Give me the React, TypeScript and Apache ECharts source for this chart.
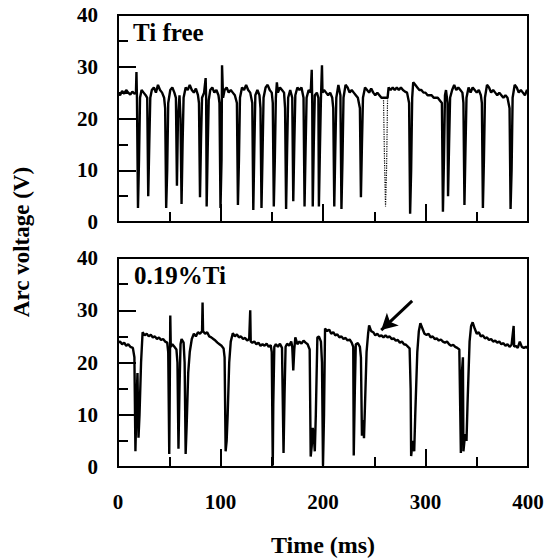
import React, { useEffect, useRef } from "react";
import * as echarts from "echarts";

// ---- Data (time in ms, arc voltage in V) ----
const xTicks = [0, 100, 200, 300, 400];
const yTicks = [0, 10, 20, 30, 40];

const tiFreeTrace: [number, number][] = [
  [0, 25], [2, 24.5], [4, 25.3], [6, 24.8], [8, 25.5], [10, 25], [12, 24.6], [14, 25.2], [16, 24.8],
  [17.5, 25], [18, 29], [18.5, 24], [19.5, 2.7], [20.5, 12], [21.5, 24], [23, 25.5], [25, 25], [27, 24.5],
  [28.5, 24], [29.5, 5], [30.5, 15], [31.5, 24], [33, 25.5], [35, 26], [37, 25], [39, 26.5], [41, 25.5],
  [43, 25], [45, 24], [46, 22], [47, 2.7], [48, 10], [49, 23], [51, 25.5], [53, 26], [55, 25], [56.5, 24],
  [57.5, 7], [58.5, 20], [60, 24.5], [61, 20], [62, 3.5], [63, 15], [64, 24], [66, 26], [68, 25.5],
  [70, 26.5], [72, 25.5], [74, 25], [76, 25.8], [78, 24.5], [79, 23], [80, 4.8], [81, 16], [82, 24],
  [84, 25], [85.5, 27.8], [86, 24], [86.5, 3], [87.5, 14], [88.5, 23.5], [90, 25.5], [92, 26], [94, 25],
  [96, 25.5], [98, 24.5], [99, 23], [100, 2.7], [101, 12], [101.5, 30.3], [102.5, 24], [104, 25.5],
  [106, 26], [108, 25], [110, 25.5], [112, 25], [114, 24.5], [116, 23], [117, 3.3], [118, 12], [119, 24],
  [121, 26], [123, 25.5], [125, 26.5], [127, 25.5], [129, 25], [131, 23], [132, 2.3], [133, 14],
  [134, 24.5], [136, 25.5], [138, 24.5], [139, 22], [140, 2.7], [141, 13], [142, 24], [144, 26],
  [146, 26.5], [148, 25.5], [150, 25], [151, 23], [152, 3], [153, 12], [154, 24], [155, 27], [156, 25],
  [158, 26], [160, 25.5], [162, 25], [163, 22], [164, 2.5], [165, 14], [166, 24], [168, 25.5], [170, 24],
  [171, 4], [172, 15], [173, 24.5], [175, 26], [177, 25.5], [179, 26], [181, 24], [182, 3], [183, 14],
  [184, 24], [186, 25.5], [188, 25], [189, 29.4], [189.5, 23], [190, 3], [191, 15], [192, 24.5], [194, 25],
  [195.5, 24], [196, 3], [197, 14], [198, 24], [199, 30.3], [199.5, 25], [201, 25.5], [203, 25],
  [205, 24.5], [207, 25], [209, 24], [210, 22], [211, 3], [212, 14], [213, 24], [215, 26.5], [217, 24.5],
  [218, 2.5], [219, 12], [220, 24], [222, 26.5], [224, 26], [226, 25], [228, 25.5], [230, 25], [232, 24.5],
  [234, 24], [236, 22], [237, 4.8], [238, 15], [239, 24], [241, 26], [243, 25.5], [245, 25], [247, 25.8],
  [249, 25], [251, 24.5], [253, 25], [255, 24.5], [257, 24], [259, 24], [263, 24], [264, 26], [266, 25.5],
  [268, 26], [270, 25.5], [272, 26], [274, 25.5], [276, 26], [278, 25.5], [280, 25.2], [282, 25], [284, 23],
  [285, 1.6], [286, 10], [287, 24], [288, 27], [290, 26.5], [292, 26], [294, 25.5], [296, 25.5], [298, 25],
  [300, 25], [302, 24.5], [304, 24.5], [306, 24.5], [308, 24], [310, 24], [312, 24], [314, 23.5], [316, 23],
  [317, 2], [318, 12], [319, 24.5], [320, 25.5], [321.5, 23], [322, 5], [323, 15], [324, 24], [326, 25.5],
  [328, 26.5], [330, 25.5], [332, 26], [334, 25.5], [336, 25], [337, 23], [338, 3.3], [339, 14], [340, 24],
  [342, 26], [344, 25], [346, 26], [348, 25.5], [350, 25], [352, 25.5], [354, 24.5], [355, 23], [356, 2.7],
  [357, 12], [358, 24], [360, 26.5], [362, 26], [364, 25], [366, 25.5], [368, 25], [370, 24.5], [372, 25],
  [374, 24.5], [376, 24], [378, 24.5], [380, 24], [382, 22], [383, 2.5], [384, 10], [385, 24], [387, 26.5],
  [389, 26], [391, 25], [393, 25.5], [395, 25], [397, 24.5], [399, 25.5], [400, 25],
];

// faint (dotted) short-circuit trace in the Ti-free record
const tiFreeFaint: [number, number][] = [
  [259, 24], [260, 12], [261, 3], [262, 10], [263, 24],
];

const ti019Trace: [number, number][] = [
  [0, 23.8], [2, 24], [4, 23.5], [6, 23.8], [8, 23.2], [10, 23.5], [12, 23], [14.5, 22.8], [16, 21],
  [17, 3], [18, 12], [19, 18], [20, 5.6], [21, 10], [22.5, 20], [24, 25.8], [26, 25.2], [28, 25.5],
  [30, 25], [32, 25.3], [34, 24.8], [36, 25], [38, 24.5], [40, 24.8], [42, 24.3], [44, 24.5], [46, 24],
  [48, 23.8], [49, 22], [50, 2.5], [50.5, 15], [51, 29], [51.5, 23], [53, 23.5], [55, 23], [57, 22.5],
  [58, 20], [59, 3.5], [60, 15], [61, 23.5], [62, 24.5], [64, 23.8], [65, 20], [66, 2.5], [67, 8],
  [68.5, 18], [70, 22], [72, 24.5], [74, 25.5], [76, 25], [78, 25.8], [80, 25.5], [82, 26], [82.5, 31.5],
  [83, 26], [85, 25.5], [87, 25.8], [89, 25], [91, 24.8], [93, 24.5], [95, 24.2], [97, 23.8], [99, 23.5],
  [101, 23.2], [103, 22.7], [104, 21], [105, 3], [106, 5], [107, 10], [108.5, 20], [110, 24], [112, 25.6],
  [114, 25], [116, 25.4], [118, 24.8], [120, 25], [122, 24.5], [124, 24.7], [126, 24.2], [128, 24.5],
  [129, 30], [129.5, 24], [131, 23.8], [133, 24], [135, 23.5], [137, 23.8], [139, 23.2], [141, 23.5],
  [143, 23.2], [145, 23.6], [147, 23], [149, 23.3], [150, 22], [151, 0.3], [151.5, 12], [152.5, 23],
  [154, 23.5], [156, 23], [158, 23.6], [160, 22.8], [161.5, 2.7], [162.5, 14], [163.5, 23], [165, 23.6],
  [167, 23.2], [169, 24], [170, 23], [171, 18.5], [172, 22.5], [173, 24.8], [175, 23.5], [177, 24],
  [179, 23.6], [181, 24.2], [183, 23.8], [185, 23.5], [187, 22.5], [188, 2], [189, 4], [190, 7.5], [191, 6],
  [192, 3], [193, 10], [194.5, 24.8], [196, 25], [198, 24], [199, 20], [200, 0.3], [201, 10], [202, 26.5],
  [204, 26], [206, 26.3], [208, 25.5], [210, 25.8], [212, 25.2], [214, 25.4], [216, 24.8], [218, 25],
  [220, 24.5], [222, 24.7], [224, 24.2], [226, 24.4], [228, 23.8], [229.5, 23], [230, 2.2], [231, 14],
  [232, 23.5], [234, 23.7], [236, 23], [237, 21], [238, 6], [239, 9], [240, 5.5], [241, 12], [242.5, 22],
  [244, 25.5], [245, 27.1], [247, 26], [249, 25.8], [251, 25.2], [253, 25.5], [255, 25], [257, 25.2],
  [259, 24.8], [261, 25.2], [263, 24.8], [265, 25], [267, 24.5], [269, 24.6], [271, 24.2], [273, 24.3],
  [275, 23.8], [277, 24], [279, 23.5], [281, 23.4], [283, 23], [284.5, 22.7], [285.5, 15], [286, 2.1],
  [287, 4], [288, 5], [289, 3], [290, 10], [292, 22], [293.5, 26], [295, 27.5], [297, 26.5], [299, 25.5],
  [301, 25.3], [303, 25.5], [305, 24.8], [307, 25], [309, 24.5], [311, 24.6], [313, 24.2], [315, 24.4],
  [317, 24], [319, 23.8], [321, 24], [323, 23.5], [325, 23.2], [327, 23.4], [329, 23], [331, 22.8],
  [333, 22.5], [334.5, 2.7], [335.5, 18], [336.5, 21], [337, 3], [338, 5], [339, 6.3], [340, 5], [341, 12],
  [343, 24], [344.5, 27], [346, 27.7], [348, 26.5], [350, 25.5], [352, 25.8], [354, 25], [356, 25.2],
  [358, 24.6], [360, 24.8], [362, 24.3], [364, 24.5], [366, 24], [368, 24.2], [370, 23.8], [372, 24],
  [374, 23.5], [376, 23.7], [378, 23.2], [380, 23.5], [382, 23], [384, 23.4], [386, 27], [386.5, 23],
  [388, 23.2], [390, 22.8], [392, 24], [394, 23], [396, 22.8], [398, 23], [400, 22.7],
];

// arrow annotation (tail -> tip) in data coordinates of the lower panel
const arrowTail: [number, number] = [287, 31.8];
const arrowTip: [number, number] = [256.8, 26.2];

const panelLabels = ["Ti free", "0.19%Ti"];
const xName = "Time (ms)";
const yName = "Arc voltage (V)";

const FONT = '"Liberation Serif", "Times New Roman", serif';

export default function App() {
  const ref = useRef<HTMLDivElement>(null);

  useEffect(() => {
    if (!ref.current) return;
    const chart = echarts.init(ref.current, null, { renderer: "svg" });

    const axisLine = { show: true, lineStyle: { color: "#000", width: 2 } };
    const labelStyle = {
      fontFamily: FONT,
      fontWeight: "bold" as const,
      fontSize: 21,
      color: "#000",
    };

    const makeX = (gridIndex: number, showLabel: boolean) => ({
      type: "value" as const,
      gridIndex,
      min: xTicks[0],
      max: xTicks[xTicks.length - 1],
      interval: 100,
      axisLine,
      axisTick: { show: true, inside: true, length: 18, lineStyle: { color: "#000", width: 2 } },
      minorTick: { show: true, splitNumber: 2, length: 10, lineStyle: { color: "#000", width: 2 } },
      splitLine: { show: false },
      minorSplitLine: { show: false },
      axisLabel: { show: showLabel, margin: 24, ...labelStyle },
    });

    const makeY = (gridIndex: number) => ({
      type: "value" as const,
      gridIndex,
      min: yTicks[0],
      max: yTicks[yTicks.length - 1],
      interval: 10,
      axisLine,
      axisTick: { show: true, inside: true, length: 18, lineStyle: { color: "#000", width: 2 } },
      minorTick: { show: true, splitNumber: 2, length: 10, lineStyle: { color: "#000", width: 2 } },
      splitLine: { show: false },
      minorSplitLine: { show: false },
      axisLabel: { show: true, margin: 20, ...labelStyle },
    });

    chart.setOption({
      animation: false,
      backgroundColor: "#fff",
      grid: [
        { left: 118, top: 15, width: 410, height: 207, show: true, borderColor: "#000", borderWidth: 2, backgroundColor: "transparent" },
        { left: 118, top: 258, width: 410, height: 209, show: true, borderColor: "#000", borderWidth: 2, backgroundColor: "transparent" },
      ],
      xAxis: [makeX(0, false), makeX(1, true)],
      yAxis: [makeY(0), makeY(1)],
      series: [
        {
          type: "line",
          xAxisIndex: 0,
          yAxisIndex: 0,
          data: tiFreeTrace,
          showSymbol: false,
          lineStyle: { color: "#000", width: 2.4 },
        },
        {
          type: "line",
          xAxisIndex: 0,
          yAxisIndex: 0,
          data: tiFreeFaint,
          showSymbol: false,
          lineStyle: { color: "#000", width: 1.2, type: "dotted" },
        },
        {
          type: "line",
          xAxisIndex: 1,
          yAxisIndex: 1,
          data: ti019Trace,
          showSymbol: false,
          lineStyle: { color: "#000", width: 2.4 },
          markLine: {
            silent: true,
            symbol: ["none", "arrow"],
            symbolSize: [13, 16],
            label: { show: false },
            lineStyle: { color: "#000", width: 3, type: "solid" },
            data: [[{ coord: arrowTail }, { coord: arrowTip }]],
          },
        },
      ],
      graphic: [
        {
          type: "text",
          left: 133,
          top: 20,
          style: { text: panelLabels[0], font: `bold 25px ${FONT}`, fill: "#000" },
        },
        {
          type: "text",
          left: 134,
          top: 263,
          style: { text: panelLabels[1], font: `bold 25px ${FONT}`, fill: "#000" },
        },
        {
          type: "text",
          x: 323,
          y: 545,
          style: { text: xName, font: `bold 24px ${FONT}`, fill: "#000", align: "center", verticalAlign: "middle" },
        },
        {
          type: "text",
          x: 21,
          y: 242,
          rotation: Math.PI / 2,
          style: { text: yName, font: `bold 23px ${FONT}`, fill: "#000", align: "center", verticalAlign: "middle" },
        },
      ],
    });

    return () => chart.dispose();
  }, []);

  return (
    <div
      ref={ref}
      style={{ position: "absolute", left: 0, top: 0, width: 550, height: 560, background: "#fff" }}
    />
  );
}
